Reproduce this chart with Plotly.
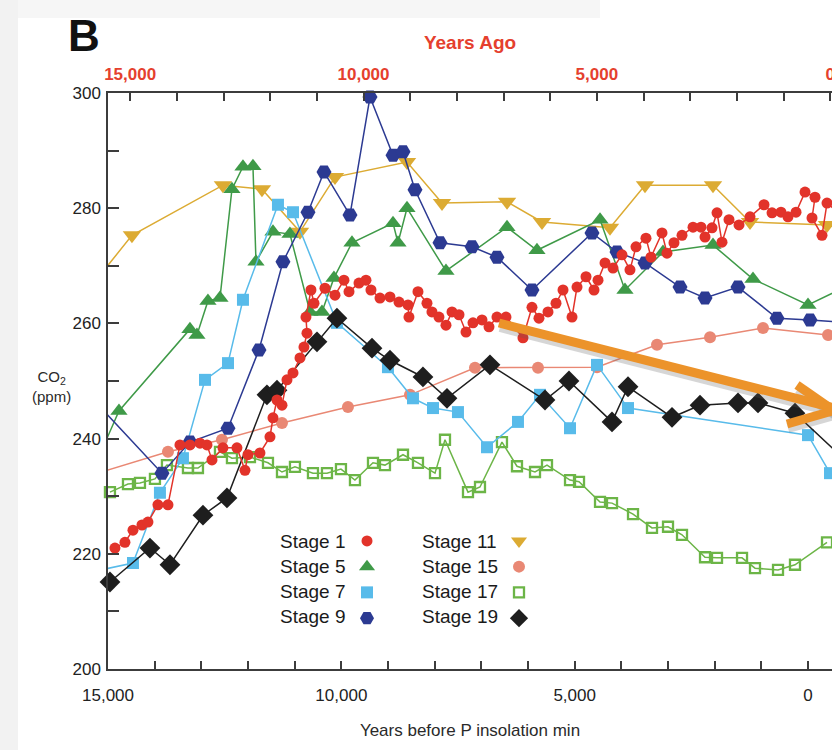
import plotly.graph_objects as go

# ---------------- data ----------------
# x: years before P insolation minimum, y: CO2 (ppm)
stage1_x = [14851, 14637, 14465, 14272, 14144, 13930, 13715, 13458, 13244, 13029,
            12879, 12772, 12537, 12237, 12065, 12001, 11744, 11529, 11465, 11379,
            11272, 11165, 11036, 10886, 10801, 10736, 10758, 10651, 10586, 10351,
            10136, 9944, 9836, 9622, 9472, 9365, 9172, 8958, 8765, 8572,
            8551, 8358, 8165, 8058, 7908, 7758, 7629, 7479, 7329, 7179,
            6986, 6836, 6665, 6472, 6108, 5915, 5765, 5572, 5400, 5250,
            5057, 4950, 4757, 4586, 4500, 4350, 4179, 3986, 3815, 3686,
            3472, 3365, 3129, 3022, 2872, 2700, 2464, 2293, 2207, 2057,
            1950, 1843, 1693, 1479, 1243, 943, 771, 579, 429, 257,
            64, -150, -86, -300, -407, -579]
stage1_y = [221.0, 222.0, 224.1, 225.0, 225.5, 228.5, 228.5, 238.9, 238.9, 239.2,
            238.9, 236.3, 238.4, 238.4, 234.5, 237.2, 237.5, 240.3, 243.6, 246.7,
            245.8, 250.2, 251.4, 254.0, 255.9, 258.3, 261.1, 265.8, 263.5, 266.1,
            264.9, 267.5, 265.5, 267.0, 267.5, 265.8, 264.4, 264.6, 263.7, 263.2,
            261.1, 265.5, 263.5, 262.0, 261.1, 259.7, 262.0, 261.5, 258.5, 260.1,
            260.6, 259.4, 261.1, 261.1, 257.5, 262.8, 260.9, 262.0, 263.5, 265.8,
            261.1, 266.3, 268.1, 265.8, 267.5, 270.5, 269.6, 271.9, 269.3, 273.3,
            274.8, 271.5, 275.7, 272.2, 274.0, 275.3, 276.7, 276.7, 275.0, 276.6,
            279.2, 274.1, 278.0, 277.1, 278.5, 280.6, 279.2, 279.3, 278.5, 279.3,
            282.8, 281.9, 278.3, 275.3, 280.9, 279.7]

stage5_x = [15300, 14765, 13244, 13094, 12858, 12601, 12344, 12108, 11894, 11829,
            11465, 11101, 10672, 10415, 10158, 9772, 8893, 8786, 8593, 7758,
            6450, 5808, 4457, 3922, 3107, 2036, 1179, 0, -793]
stage5_y = [234.9, 244.8, 259.0, 258.0, 263.9, 264.4, 283.3, 287.2, 287.3, 270.7,
            275.9, 275.5, 262.0, 262.0, 267.9, 274.0, 277.4, 274.0, 280.0, 269.1,
            276.7, 272.7, 278.0, 265.8, 272.4, 273.6, 267.7, 263.2, 266.3]

stage7_x = [15387, 14465, 13887, 13394, 12922, 12429, 12108, 11358, 11036, 10094,
            9001, 8465, 8036, 7501, 6879, 6215, 5743, 5100, 4522, 3857, 0, -471]
stage7_y = [216.8, 218.4, 230.6, 236.6, 250.2, 253.1, 264.1, 280.6, 279.3, 260.1,
            252.4, 247.0, 245.3, 244.6, 238.5, 242.9, 247.6, 241.8, 252.8, 245.3, 240.6, 234.0]

stage9_x = [15387, 13844, 13244, 12429, 11765, 11251, 10715, 10372, 9815, 9386,
            8893, 8679, 8422, 7886, 7200, 6665, 5915, 4629, 4093, 3493,
            2743, 2207, 1500, 664, -43, -793]
stage9_y = [247.4, 234.0, 239.4, 241.8, 255.4, 270.7, 279.3, 286.3, 278.8, 299.3,
            289.2, 289.8, 283.2, 274.0, 273.3, 271.5, 265.8, 275.7, 272.4, 270.5,
            266.3, 264.4, 266.3, 260.9, 260.6, 260.2]

stage11_x = [15500, 14487, 12537, 11701, 10886, 10136, 8593, 7843, 6450, 5700,
             4243, 3493, 2036, 1243, -407]
stage11_y = [265.0, 275.3, 284.0, 283.3, 275.9, 285.4, 288.0, 280.9, 281.1, 277.6,
             276.6, 284.0, 284.0, 277.6, 277.1]

stage15_x = [15800, 13715, 12558, 11272, 9858, 8529, 7136, 5786, 4522, 3236, 2100, 964, -429]
stage15_y = [232.6, 237.7, 239.8, 242.7, 245.5, 247.6, 252.3, 252.3, 252.4, 256.3, 257.6, 259.2, 258.0]

stage17_x = [14958, 14572, 14315, 13994, 13737, 13287, 13072, 12601, 12344, 11958,
             11572, 11272, 10994, 10608, 10308, 10008, 9708, 9322, 9065, 8679,
             8358, 7993, 7779, 7286, 7029, 6558, 6236, 5850, 5593, 5100,
             4907, 4457, 4200, 3750, 3343, 3000, 2700, 2207, 1950, 1414,
             1136, 643, 279, -407]
stage17_y = [230.7, 232.1, 232.3, 233.0, 235.4, 234.9, 234.9, 237.7, 236.6, 236.8,
             235.8, 234.2, 235.1, 234.0, 234.0, 234.7, 232.8, 235.8, 235.4, 237.2,
             235.8, 234.0, 239.8, 230.7, 231.6, 239.4, 235.2, 234.2, 235.4, 232.8,
             232.5, 229.0, 228.8, 226.9, 224.5, 224.7, 223.3, 219.4, 219.3, 219.3,
             217.5, 217.2, 218.1, 222.0]

stage19_x = [14958, 14101, 13672, 12965, 12451, 11594, 11379, 10522, 10094, 9343,
             8958, 8251, 7736, 6815, 5636, 5122, 4200, 3857, 2914, 2314,
             1500, 1072, 279, -793]
stage19_y = [215.1, 221.0, 218.1, 226.7, 229.7, 247.6, 248.4, 256.8, 260.9, 255.7,
             253.6, 250.7, 247.0, 252.8, 246.7, 250.0, 242.9, 249.0, 243.7, 245.8,
             246.2, 246.2, 244.4, 236.3]

stage_names = ["Stage 1", "Stage 5", "Stage 7", "Stage 9",
               "Stage 11", "Stage 15", "Stage 17", "Stage 19"]

bottom_tick_vals = list(range(0, 15001, 1000))
bottom_tick_text = ["15,000" if v == 15000 else "10,000" if v == 10000 else
                    "5,000" if v == 5000 else "0" if v == 0 else "" for v in bottom_tick_vals]
top_tick_vals = list(range(0, 15001, 1000))
top_tick_text = list(bottom_tick_text)
y_tick_vals = list(range(200, 301, 10))
y_tick_text = [str(v) if v % 20 == 0 else "" for v in y_tick_vals]

# ---------------- styling ----------------
X_RANGE = [15000, -514]        # reversed time axis, right side cropped
YEARS_AGO_OFFSET = 475         # top axis (years ago) offset
RED_TXT = "#e5402e"
AX = "#3c3c3c"
FONT = "Liberation Sans, Arial, Helvetica, sans-serif"

styles = {
    "Stage 1":  dict(color="#e2332a", symbol="circle", size=11, data=(stage1_x, stage1_y)),
    "Stage 5":  dict(color="#3f9a48", symbol="triangle-up", size=15, data=(stage5_x, stage5_y)),
    "Stage 7":  dict(color="#58bbea", symbol="square", size=12, data=(stage7_x, stage7_y)),
    "Stage 9":  dict(color="#2c3a92", symbol="hexagon2", size=15, data=(stage9_x, stage9_y)),
    "Stage 11": dict(color="#dcab33", symbol="triangle-down", size=16, data=(stage11_x, stage11_y)),
    "Stage 15": dict(color="#e98874", symbol="circle", size=12, data=(stage15_x, stage15_y)),
    "Stage 17": dict(color="#6cb547", symbol="square-open", size=10, data=(stage17_x, stage17_y)),
    "Stage 19": dict(color="#1e1e1e", symbol="diamond", size=16, data=(stage19_x, stage19_y)),
}
draw_order = ["Stage 17", "Stage 15", "Stage 11", "Stage 5", "Stage 7", "Stage 9", "Stage 19", "Stage 1"]


def marker_of(st, size=None):
    m = dict(symbol=st["symbol"], size=size or st["size"], color=st["color"])
    if st["symbol"].endswith("open"):
        m["line"] = dict(color=st["color"], width=2.3)
    else:
        m["line"] = dict(width=0)
    return m


fig = go.Figure()
for name in draw_order:
    st = styles[name]
    xs, ys = st["data"]
    fig.add_trace(go.Scatter(x=xs, y=ys, mode="lines", line=dict(color=st["color"], width=1.5),
                             showlegend=False, hoverinfo="skip"))
    pts = [(a, b) for a, b in zip(xs, ys) if X_RANGE[1] <= a <= X_RANGE[0]]
    fig.add_trace(go.Scatter(x=[p[0] for p in pts], y=[p[1] for p in pts], mode="markers",
                             marker=marker_of(st), cliponaxis=False, showlegend=False, name=name))

# legend symbols (text is placed separately, to the left of each symbol)
for i, name in enumerate(stage_names):
    st = styles[name]
    fig.add_trace(go.Scatter(x=[None], y=[None], mode="markers", name=" ",
                             marker=marker_of(st, size=min(st["size"], 14)),
                             legend="legend" if i < 4 else "legend2", showlegend=True))

# invisible trace to activate the top (years ago) axis
fig.add_trace(go.Scatter(x=[None], y=[None], xaxis="x2", yaxis="y", mode="lines",
                         showlegend=False, hoverinfo="skip"))

W, H = 832, 750
L, R, T, B = 108, 0, 93, 81
PW, PH = W - L - R, H - T - B


def px(xp):
    return (xp - L) / PW


def py(yp):
    return (H - B - yp) / PH


annotations = [
    dict(text="<b>B</b>", x=px(66), y=py(35), xanchor="left", yanchor="middle",
         font=dict(size=44, color="#111", family=FONT)),
    dict(text="CO<sub>2</sub><br>(ppm)", x=px(51), y=py(386), xanchor="center", yanchor="middle",
         font=dict(size=15, color="#2a2a2a", family=FONT)),
]
rows = [541, 566, 591, 616]
for i, name in enumerate(stage_names):
    col_x = 278 if i < 4 else 420
    annotations.append(dict(text=name, x=px(col_x), y=py(rows[i % 4]), xanchor="left",
                            yanchor="middle",
                            font=dict(size=19, color="#1a1a1a", family=FONT)))
for a in annotations:
    a.update(xref="paper", yref="paper", showarrow=False)

ORANGE = "#ec932a"
shapes = [
    dict(type="rect", xref="paper", yref="paper", x0=px(0), x1=px(18), y0=py(H), y1=py(0),
         fillcolor="#f2f2f2", line=dict(width=0), layer="below"),
    dict(type="rect", xref="paper", yref="paper", x0=px(18), x1=px(600), y0=py(18), y1=py(0),
         fillcolor="#f6f6f6", line=dict(width=0), layer="below"),
]
arrow_segs = [((499, 323), (834, 408)), ((797, 385), (836, 412)), ((787, 424), (836, 410))]
for (a, b) in arrow_segs:
    shapes.append(dict(type="line", xref="paper", yref="paper",
                       x0=px(a[0] + 1), y0=py(a[1] + 4), x1=px(b[0] + 1), y1=py(b[1] + 4),
                       line=dict(color="rgba(90,90,90,0.25)", width=10)))
for (a, b) in arrow_segs:
    shapes.append(dict(type="line", xref="paper", yref="paper",
                       x0=px(a[0]), y0=py(a[1]), x1=px(b[0]), y1=py(b[1]),
                       line=dict(color=ORANGE, width=9)))

axis_common = dict(showgrid=False, zeroline=False, showline=True, linecolor=AX, linewidth=1.5,
                   ticks="inside", tickcolor=AX, tickwidth=1.5, ticklabeloverflow="allow")

fig.update_layout(
    width=W, height=H, margin=dict(l=L, r=R, t=T, b=B, autoexpand=False),
    paper_bgcolor="white", plot_bgcolor="white",
    font=dict(family=FONT, color="#2a2a2a"),
    xaxis=dict(range=X_RANGE, tickmode="array", tickvals=bottom_tick_vals, ticktext=bottom_tick_text,
               ticklen=8, tickfont=dict(size=17, color="#222"), ticklabelstandoff=10,
               title=dict(text="Years before P insolation min", font=dict(size=17, color="#2a2a2a"),
                          standoff=20),
               **axis_common),
    xaxis2=dict(overlaying="x", side="top", anchor="y",
                range=[X_RANGE[0] + YEARS_AGO_OFFSET, X_RANGE[1] + YEARS_AGO_OFFSET],
                tickmode="array", tickvals=top_tick_vals, ticktext=top_tick_text, ticklen=8,
                tickfont=dict(size=17, color=RED_TXT, weight="bold"), ticklabelstandoff=4,
                title=dict(text="Years Ago", font=dict(size=19, color=RED_TXT, weight="bold"),
                           standoff=11),
                **axis_common),
    yaxis=dict(range=[200, 300], tickmode="array", tickvals=y_tick_vals, ticktext=y_tick_text,
               ticklen=11, tickfont=dict(size=17, color="#222"), ticklabelstandoff=2,
               **axis_common),
    legend=dict(x=px(347), y=py(523), xanchor="left", yanchor="top", bgcolor="rgba(0,0,0,0)",
                font=dict(size=17.5), tracegroupgap=0, itemsizing="trace", itemwidth=30),
    legend2=dict(x=px(499), y=py(523), xanchor="left", yanchor="top", bgcolor="rgba(0,0,0,0)",
                 font=dict(size=17.5), tracegroupgap=0, itemsizing="trace", itemwidth=30),
    annotations=annotations,
    shapes=shapes,
    showlegend=True,
)

fig.write_html("out.html")
